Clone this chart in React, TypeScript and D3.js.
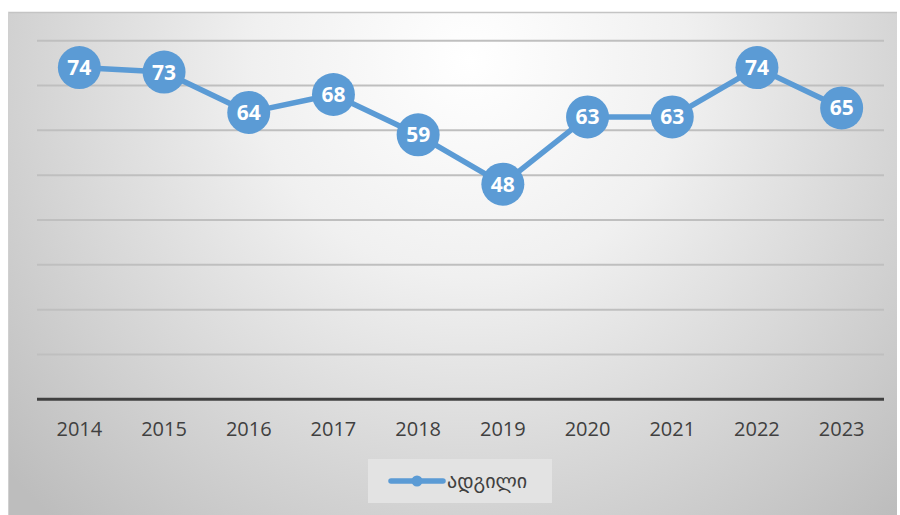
import React from "react";
import * as d3 from "d3";

const years = ["2014", "2015", "2016", "2017", "2018", "2019", "2020", "2021", "2022", "2023"];
const values = [74, 73, 64, 68, 59, 48, 63, 63, 74, 65];
const yTicks = [0, 10, 20, 30, 40, 50, 60, 70, 80];
const seriesName = "ადგილი";

export default function App() {
  const W = 900, H = 515;
  const x = d3.scaleBand<string>().domain(years).range([37, 884]);
  const y = d3.scaleLinear().domain([0, 80]).range([399.3, 40.7]);
  const line = d3.line<number>()
    .x((_, i) => (x(years[i]) as number) + x.bandwidth() / 2)
    .y((d) => y(d));
  const blue = "#5B9BD5";
  return (
    <svg width={W} height={H} style={{ position: "absolute", left: 0, top: 0 }}>
      <defs>
        <radialGradient id="bg" gradientUnits="userSpaceOnUse" cx={470} cy={60} r={620}>
          <stop offset="0" stopColor="#ffffff" />
          <stop offset="0.35" stopColor="#f0f0f0" />
          <stop offset="1" stopColor="#bdbdbd" />
        </radialGradient>
      </defs>
      <rect x={0} y={0} width={W} height={H} fill="#ffffff" />
      <rect x={8} y={12} width={889} height={503} fill="url(#bg)" />
      <line x1={8} x2={897} y1={12.5} y2={12.5} stroke="#c4c4c4" strokeWidth={1.5} />
      <line x1={8.5} x2={8.5} y1={12} y2={515} stroke="#d0d0d0" strokeWidth={1} />
      {yTicks.filter((t) => t > 0).map((t) => (
        <line key={t} x1={37} x2={884} y1={y(t)} y2={y(t)} stroke="#bfbfbf" strokeWidth={2} />
      ))}
      <line x1={37} x2={884} y1={y(0)} y2={y(0)} stroke="#404040" strokeWidth={3} />
      {years.map((yr) => (
        <text key={yr} x={(x(yr) as number) + x.bandwidth() / 2} y={436} textAnchor="middle"
          fontFamily="Open Sans" fontSize={20} fill="#404040">{yr}</text>
      ))}
      <path d={line(values) || ""} fill="none" stroke={blue} strokeWidth={5.5} strokeLinejoin="round" />
      {values.map((v, i) => {
        const cx = (x(years[i]) as number) + x.bandwidth() / 2;
        return (
          <g key={i}>
            <circle cx={cx} cy={y(v)} r={21.5} fill={blue} />
            <text x={cx} y={y(v) + 7.5} textAnchor="middle" fontFamily="Open Sans" fontWeight="bold"
              fontSize={21} fill="#ffffff">{v}</text>
          </g>
        );
      })}
      <rect x={368} y={459} width={184} height={44} fill="#e3e3e3" />
      <line x1={391} x2={443} y1={481} y2={481} stroke={blue} strokeWidth={5.5} strokeLinecap="round" />
      <circle cx={417} cy={481} r={5.5} fill={blue} />
      <text x={447} y={488} fontFamily="DejaVu Sans" fontSize={20} fill="#404040">{seriesName}</text>
    </svg>
  );
}
